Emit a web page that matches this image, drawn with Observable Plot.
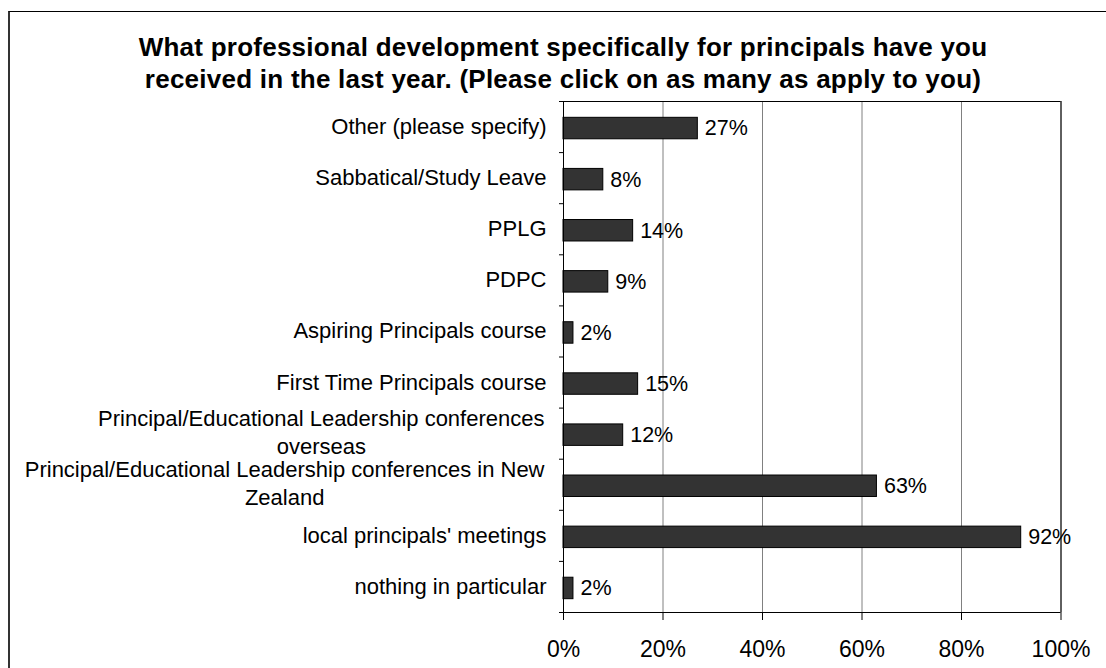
<!DOCTYPE html>
<html>
<head>
<meta charset="utf-8">
<script src="https://cdn.jsdelivr.net/npm/d3@7"></script>
<script src="https://cdn.jsdelivr.net/npm/@observablehq/plot@0.6"></script>
<style>
  html, body { margin: 0; padding: 0; background: #fff; }
  #wrap { position: relative; width: 1106px; height: 668px; overflow: hidden; background: #fff; font-family: "Liberation Sans", Arial, sans-serif; }
  #frame { position: absolute; left: 8px; top: 11px; width: 1200px; height: 800px; border-left: 2px solid #333; border-top: 1px solid #000; box-sizing: border-box; }
  #title { position: absolute; left: 0; top: 31px; width: 1126px; text-align: center; font-weight: bold; font-size: 26px; letter-spacing: 0.25px; line-height: 32px; color: #000; }
  #chart { position: absolute; left: 0; top: 0; }
</style>
</head>
<body>
<div id="wrap">
  <div id="frame"></div>
  <div id="title">What professional development specifically for principals have you<br>received in the last year. (Please click on as many as apply to you)</div>
  <div id="chart"></div>
</div>
<script>
const categories = [
  "Other (please specify)",
  "Sabbatical/Study Leave",
  "PPLG",
  "PDPC",
  "Aspiring Principals course",
  "First Time Principals course",
  "Principal/Educational Leadership conferences\noverseas",
  "Principal/Educational Leadership conferences in New\nZealand",
  "local principals' meetings",
  "nothing in particular"
];
const values = [27, 8, 14, 9, 2, 15, 12, 63, 92, 2];
const xTicks = [0, 20, 40, 60, 80, 100];

const data = categories.map((c, i) => ({i, label: c, value: values[i]}));
const singleLine = data.filter(d => !d.label.includes("\n"));
const multiLine = data.filter(d => d.label.includes("\n"));
const boundaries = d3.range(categories.length + 1);

const chart = Plot.plot({
  width: 1106,
  height: 668,
  marginLeft: 563,
  marginRight: 45.5,
  marginTop: 101,
  marginBottom: 56,
  style: {fontFamily: "'Liberation Sans', Arial, sans-serif", fontSize: "22px", color: "#000", background: "transparent", overflow: "visible"},
  x: {domain: [0, 100], label: null},
  y: {domain: [0, categories.length], reverse: true, label: null},
  marks: [
    Plot.gridX(xTicks, {stroke: "#808080", strokeOpacity: 1}),
    Plot.ruleX([100], {stroke: "#000"}),
    Plot.ruleY([0], {stroke: "#000"}),
    Plot.ruleY([categories.length], {stroke: "#000"}),
    Plot.rect(data, {x1: 0, x2: "value", y1: d => d.i + 0.29, y2: d => d.i + 0.71, dy: 1.5, fill: "#333333", stroke: "#000", strokeWidth: 1}),
    Plot.text(data, {x: "value", y: d => d.i + 0.5, text: d => d.value + "%", textAnchor: "start", dx: 7, dy: 1.5, fontSize: 21.5, fill: "#000"}),
    Plot.ruleX([0], {stroke: "#000"}),
    Plot.axisX({ticks: xTicks, tickFormat: d => d + "%", tickSize: 8, tickPadding: 20, fontSize: 23, label: null, stroke: "#000", fill: "#000"}),
    Plot.axisY({ticks: boundaries, tickSize: 4, tickFormat: () => "", label: null, stroke: "#000"}),
    Plot.text(singleLine, {x: 0, y: d => d.i + 0.5, text: "label", textAnchor: "end", dx: -17, fontSize: 22, fill: "#000"}),
    Plot.text(multiLine, {x: 0, y: d => d.i + 0.5, text: "label", textAnchor: "end", dx: -19, dy: -2.5, fontSize: 22, lineHeight: 1.27, fill: "#000", className: "catlab"})
  ]
});
document.getElementById("chart").appendChild(chart);

// center wrapped lines of multi-line category labels (block right-aligned)
d3.select(chart).selectAll(".catlab text").each(function() {
  const tspans = d3.select(this).selectAll("tspan").nodes();
  if (tspans.length > 1) {
    const w = d3.max(tspans, t => t.getComputedTextLength());
    d3.select(this).attr("text-anchor", "middle");
    tspans.forEach(t => t.setAttribute("x", -w / 2));
  }
});
</script>
</body>
</html>
